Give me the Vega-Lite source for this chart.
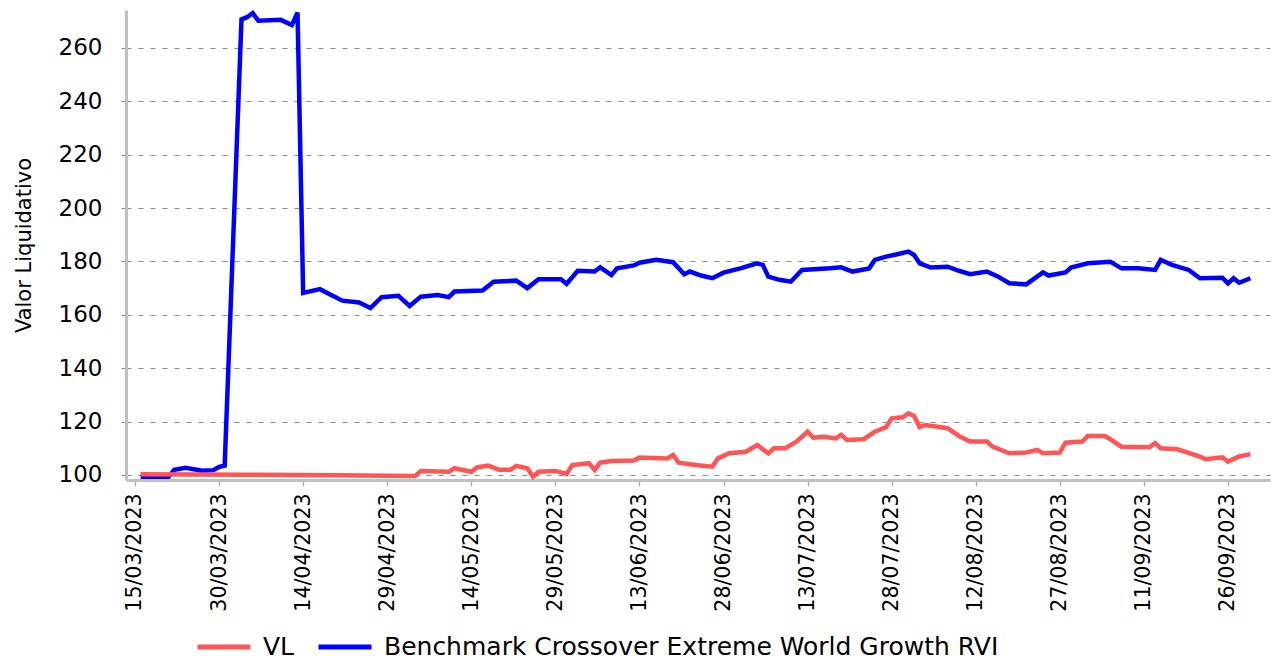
{
  "$schema": "https://vega.github.io/schema/vega-lite/v6.json",
  "width": 1144,
  "height": 470,
  "autosize": {"type": "none"},
  "padding": {"left": 126, "top": 10, "right": 6, "bottom": 182},
  "background": "white",
  "config": {
    "view": {"stroke": null},
    "font": "DejaVu Sans"
  },
  "data": {
    "values": [
      {"date": "2023-03-16", "series": "Benchmark Crossover Extreme World Growth RVI", "value": 99.3},
      {"date": "2023-03-21", "series": "Benchmark Crossover Extreme World Growth RVI", "value": 99.3},
      {"date": "2023-03-22", "series": "Benchmark Crossover Extreme World Growth RVI", "value": 101.9},
      {"date": "2023-03-24", "series": "Benchmark Crossover Extreme World Growth RVI", "value": 102.7},
      {"date": "2023-03-27", "series": "Benchmark Crossover Extreme World Growth RVI", "value": 101.6},
      {"date": "2023-03-29", "series": "Benchmark Crossover Extreme World Growth RVI", "value": 101.8},
      {"date": "2023-03-30", "series": "Benchmark Crossover Extreme World Growth RVI", "value": 103.0},
      {"date": "2023-03-31", "series": "Benchmark Crossover Extreme World Growth RVI", "value": 103.5},
      {"date": "2023-04-03", "series": "Benchmark Crossover Extreme World Growth RVI", "value": 270.7},
      {"date": "2023-04-04", "series": "Benchmark Crossover Extreme World Growth RVI", "value": 271.5},
      {"date": "2023-04-05", "series": "Benchmark Crossover Extreme World Growth RVI", "value": 273.0},
      {"date": "2023-04-06", "series": "Benchmark Crossover Extreme World Growth RVI", "value": 270.2},
      {"date": "2023-04-10", "series": "Benchmark Crossover Extreme World Growth RVI", "value": 270.5},
      {"date": "2023-04-12", "series": "Benchmark Crossover Extreme World Growth RVI", "value": 268.6},
      {"date": "2023-04-13", "series": "Benchmark Crossover Extreme World Growth RVI", "value": 273.2},
      {"date": "2023-04-14", "series": "Benchmark Crossover Extreme World Growth RVI", "value": 168.2},
      {"date": "2023-04-17", "series": "Benchmark Crossover Extreme World Growth RVI", "value": 169.6},
      {"date": "2023-04-19", "series": "Benchmark Crossover Extreme World Growth RVI", "value": 167.4},
      {"date": "2023-04-21", "series": "Benchmark Crossover Extreme World Growth RVI", "value": 165.3},
      {"date": "2023-04-24", "series": "Benchmark Crossover Extreme World Growth RVI", "value": 164.6},
      {"date": "2023-04-26", "series": "Benchmark Crossover Extreme World Growth RVI", "value": 162.5},
      {"date": "2023-04-28", "series": "Benchmark Crossover Extreme World Growth RVI", "value": 166.6},
      {"date": "2023-05-01", "series": "Benchmark Crossover Extreme World Growth RVI", "value": 167.1},
      {"date": "2023-05-03", "series": "Benchmark Crossover Extreme World Growth RVI", "value": 163.3},
      {"date": "2023-05-05", "series": "Benchmark Crossover Extreme World Growth RVI", "value": 166.8},
      {"date": "2023-05-08", "series": "Benchmark Crossover Extreme World Growth RVI", "value": 167.4},
      {"date": "2023-05-10", "series": "Benchmark Crossover Extreme World Growth RVI", "value": 166.6},
      {"date": "2023-05-11", "series": "Benchmark Crossover Extreme World Growth RVI", "value": 168.7},
      {"date": "2023-05-16", "series": "Benchmark Crossover Extreme World Growth RVI", "value": 169.1},
      {"date": "2023-05-18", "series": "Benchmark Crossover Extreme World Growth RVI", "value": 172.4},
      {"date": "2023-05-22", "series": "Benchmark Crossover Extreme World Growth RVI", "value": 172.8},
      {"date": "2023-05-24", "series": "Benchmark Crossover Extreme World Growth RVI", "value": 170.0},
      {"date": "2023-05-26", "series": "Benchmark Crossover Extreme World Growth RVI", "value": 173.3},
      {"date": "2023-05-30", "series": "Benchmark Crossover Extreme World Growth RVI", "value": 173.3},
      {"date": "2023-05-31", "series": "Benchmark Crossover Extreme World Growth RVI", "value": 171.6},
      {"date": "2023-06-02", "series": "Benchmark Crossover Extreme World Growth RVI", "value": 176.5},
      {"date": "2023-06-05", "series": "Benchmark Crossover Extreme World Growth RVI", "value": 176.2},
      {"date": "2023-06-06", "series": "Benchmark Crossover Extreme World Growth RVI", "value": 177.8},
      {"date": "2023-06-08", "series": "Benchmark Crossover Extreme World Growth RVI", "value": 174.9},
      {"date": "2023-06-09", "series": "Benchmark Crossover Extreme World Growth RVI", "value": 177.4},
      {"date": "2023-06-12", "series": "Benchmark Crossover Extreme World Growth RVI", "value": 178.5},
      {"date": "2023-06-13", "series": "Benchmark Crossover Extreme World Growth RVI", "value": 179.5},
      {"date": "2023-06-16", "series": "Benchmark Crossover Extreme World Growth RVI", "value": 180.6},
      {"date": "2023-06-19", "series": "Benchmark Crossover Extreme World Growth RVI", "value": 179.7},
      {"date": "2023-06-21", "series": "Benchmark Crossover Extreme World Growth RVI", "value": 175.2},
      {"date": "2023-06-22", "series": "Benchmark Crossover Extreme World Growth RVI", "value": 176.2},
      {"date": "2023-06-24", "series": "Benchmark Crossover Extreme World Growth RVI", "value": 174.7},
      {"date": "2023-06-26", "series": "Benchmark Crossover Extreme World Growth RVI", "value": 173.7},
      {"date": "2023-06-28", "series": "Benchmark Crossover Extreme World Growth RVI", "value": 175.8},
      {"date": "2023-07-01", "series": "Benchmark Crossover Extreme World Growth RVI", "value": 177.4},
      {"date": "2023-07-04", "series": "Benchmark Crossover Extreme World Growth RVI", "value": 179.3},
      {"date": "2023-07-05", "series": "Benchmark Crossover Extreme World Growth RVI", "value": 178.7},
      {"date": "2023-07-06", "series": "Benchmark Crossover Extreme World Growth RVI", "value": 174.3},
      {"date": "2023-07-08", "series": "Benchmark Crossover Extreme World Growth RVI", "value": 173.1},
      {"date": "2023-07-10", "series": "Benchmark Crossover Extreme World Growth RVI", "value": 172.4},
      {"date": "2023-07-12", "series": "Benchmark Crossover Extreme World Growth RVI", "value": 176.8},
      {"date": "2023-07-17", "series": "Benchmark Crossover Extreme World Growth RVI", "value": 177.4},
      {"date": "2023-07-19", "series": "Benchmark Crossover Extreme World Growth RVI", "value": 177.8},
      {"date": "2023-07-21", "series": "Benchmark Crossover Extreme World Growth RVI", "value": 176.2},
      {"date": "2023-07-24", "series": "Benchmark Crossover Extreme World Growth RVI", "value": 177.4},
      {"date": "2023-07-25", "series": "Benchmark Crossover Extreme World Growth RVI", "value": 180.6},
      {"date": "2023-07-27", "series": "Benchmark Crossover Extreme World Growth RVI", "value": 181.8},
      {"date": "2023-07-29", "series": "Benchmark Crossover Extreme World Growth RVI", "value": 182.7},
      {"date": "2023-07-31", "series": "Benchmark Crossover Extreme World Growth RVI", "value": 183.7},
      {"date": "2023-08-01", "series": "Benchmark Crossover Extreme World Growth RVI", "value": 182.4},
      {"date": "2023-08-02", "series": "Benchmark Crossover Extreme World Growth RVI", "value": 179.3},
      {"date": "2023-08-04", "series": "Benchmark Crossover Extreme World Growth RVI", "value": 177.7},
      {"date": "2023-08-07", "series": "Benchmark Crossover Extreme World Growth RVI", "value": 178.0},
      {"date": "2023-08-09", "series": "Benchmark Crossover Extreme World Growth RVI", "value": 176.5},
      {"date": "2023-08-11", "series": "Benchmark Crossover Extreme World Growth RVI", "value": 175.2},
      {"date": "2023-08-14", "series": "Benchmark Crossover Extreme World Growth RVI", "value": 176.2},
      {"date": "2023-08-16", "series": "Benchmark Crossover Extreme World Growth RVI", "value": 174.3},
      {"date": "2023-08-18", "series": "Benchmark Crossover Extreme World Growth RVI", "value": 171.8},
      {"date": "2023-08-21", "series": "Benchmark Crossover Extreme World Growth RVI", "value": 171.4},
      {"date": "2023-08-24", "series": "Benchmark Crossover Extreme World Growth RVI", "value": 175.9},
      {"date": "2023-08-25", "series": "Benchmark Crossover Extreme World Growth RVI", "value": 174.7},
      {"date": "2023-08-28", "series": "Benchmark Crossover Extreme World Growth RVI", "value": 175.9},
      {"date": "2023-08-29", "series": "Benchmark Crossover Extreme World Growth RVI", "value": 177.7},
      {"date": "2023-09-01", "series": "Benchmark Crossover Extreme World Growth RVI", "value": 179.3},
      {"date": "2023-09-05", "series": "Benchmark Crossover Extreme World Growth RVI", "value": 179.9},
      {"date": "2023-09-07", "series": "Benchmark Crossover Extreme World Growth RVI", "value": 177.4},
      {"date": "2023-09-10", "series": "Benchmark Crossover Extreme World Growth RVI", "value": 177.4},
      {"date": "2023-09-13", "series": "Benchmark Crossover Extreme World Growth RVI", "value": 176.8},
      {"date": "2023-09-14", "series": "Benchmark Crossover Extreme World Growth RVI", "value": 180.6},
      {"date": "2023-09-16", "series": "Benchmark Crossover Extreme World Growth RVI", "value": 178.7},
      {"date": "2023-09-19", "series": "Benchmark Crossover Extreme World Growth RVI", "value": 176.8},
      {"date": "2023-09-21", "series": "Benchmark Crossover Extreme World Growth RVI", "value": 173.7},
      {"date": "2023-09-25", "series": "Benchmark Crossover Extreme World Growth RVI", "value": 173.9},
      {"date": "2023-09-26", "series": "Benchmark Crossover Extreme World Growth RVI", "value": 171.8},
      {"date": "2023-09-27", "series": "Benchmark Crossover Extreme World Growth RVI", "value": 173.7},
      {"date": "2023-09-28", "series": "Benchmark Crossover Extreme World Growth RVI", "value": 172.0},
      {"date": "2023-09-30", "series": "Benchmark Crossover Extreme World Growth RVI", "value": 173.7},
      {"date": "2023-03-16", "series": "VL", "value": 100.3},
      {"date": "2023-04-04", "series": "VL", "value": 100.1},
      {"date": "2023-04-19", "series": "VL", "value": 99.9},
      {"date": "2023-05-04", "series": "VL", "value": 99.6},
      {"date": "2023-05-05", "series": "VL", "value": 101.5},
      {"date": "2023-05-10", "series": "VL", "value": 101.2},
      {"date": "2023-05-11", "series": "VL", "value": 102.5},
      {"date": "2023-05-14", "series": "VL", "value": 101.2},
      {"date": "2023-05-15", "series": "VL", "value": 102.8},
      {"date": "2023-05-17", "series": "VL", "value": 103.5},
      {"date": "2023-05-19", "series": "VL", "value": 101.9},
      {"date": "2023-05-21", "series": "VL", "value": 101.9},
      {"date": "2023-05-22", "series": "VL", "value": 103.4},
      {"date": "2023-05-24", "series": "VL", "value": 102.5},
      {"date": "2023-05-25", "series": "VL", "value": 99.4},
      {"date": "2023-05-26", "series": "VL", "value": 101.2},
      {"date": "2023-05-29", "series": "VL", "value": 101.5},
      {"date": "2023-05-31", "series": "VL", "value": 100.4},
      {"date": "2023-06-01", "series": "VL", "value": 103.7},
      {"date": "2023-06-04", "series": "VL", "value": 104.4},
      {"date": "2023-06-05", "series": "VL", "value": 101.9},
      {"date": "2023-06-06", "series": "VL", "value": 104.6},
      {"date": "2023-06-08", "series": "VL", "value": 105.2},
      {"date": "2023-06-12", "series": "VL", "value": 105.4},
      {"date": "2023-06-13", "series": "VL", "value": 106.5},
      {"date": "2023-06-18", "series": "VL", "value": 106.2},
      {"date": "2023-06-19", "series": "VL", "value": 107.5},
      {"date": "2023-06-20", "series": "VL", "value": 104.6},
      {"date": "2023-06-23", "series": "VL", "value": 103.7},
      {"date": "2023-06-26", "series": "VL", "value": 103.1},
      {"date": "2023-06-27", "series": "VL", "value": 106.2},
      {"date": "2023-06-29", "series": "VL", "value": 108.1},
      {"date": "2023-07-02", "series": "VL", "value": 108.7},
      {"date": "2023-07-04", "series": "VL", "value": 111.2},
      {"date": "2023-07-06", "series": "VL", "value": 108.1},
      {"date": "2023-07-07", "series": "VL", "value": 110.0},
      {"date": "2023-07-09", "series": "VL", "value": 110.0},
      {"date": "2023-07-11", "series": "VL", "value": 112.5},
      {"date": "2023-07-13", "series": "VL", "value": 116.2},
      {"date": "2023-07-14", "series": "VL", "value": 114.0},
      {"date": "2023-07-16", "series": "VL", "value": 114.3},
      {"date": "2023-07-18", "series": "VL", "value": 113.7},
      {"date": "2023-07-19", "series": "VL", "value": 115.0},
      {"date": "2023-07-20", "series": "VL", "value": 113.1},
      {"date": "2023-07-23", "series": "VL", "value": 113.4},
      {"date": "2023-07-25", "series": "VL", "value": 116.2},
      {"date": "2023-07-27", "series": "VL", "value": 117.9},
      {"date": "2023-07-28", "series": "VL", "value": 121.2},
      {"date": "2023-07-30", "series": "VL", "value": 121.6},
      {"date": "2023-07-31", "series": "VL", "value": 123.1},
      {"date": "2023-08-01", "series": "VL", "value": 122.1},
      {"date": "2023-08-02", "series": "VL", "value": 117.9},
      {"date": "2023-08-03", "series": "VL", "value": 118.7},
      {"date": "2023-08-07", "series": "VL", "value": 117.5},
      {"date": "2023-08-09", "series": "VL", "value": 114.6},
      {"date": "2023-08-11", "series": "VL", "value": 112.5},
      {"date": "2023-08-14", "series": "VL", "value": 112.5},
      {"date": "2023-08-15", "series": "VL", "value": 110.6},
      {"date": "2023-08-18", "series": "VL", "value": 108.1},
      {"date": "2023-08-21", "series": "VL", "value": 108.4},
      {"date": "2023-08-23", "series": "VL", "value": 109.4},
      {"date": "2023-08-24", "series": "VL", "value": 108.1},
      {"date": "2023-08-27", "series": "VL", "value": 108.4},
      {"date": "2023-08-28", "series": "VL", "value": 112.1},
      {"date": "2023-08-31", "series": "VL", "value": 112.5},
      {"date": "2023-09-01", "series": "VL", "value": 114.6},
      {"date": "2023-09-04", "series": "VL", "value": 114.6},
      {"date": "2023-09-05", "series": "VL", "value": 113.4},
      {"date": "2023-09-07", "series": "VL", "value": 110.6},
      {"date": "2023-09-12", "series": "VL", "value": 110.4},
      {"date": "2023-09-13", "series": "VL", "value": 111.9},
      {"date": "2023-09-14", "series": "VL", "value": 110.0},
      {"date": "2023-09-17", "series": "VL", "value": 109.6},
      {"date": "2023-09-21", "series": "VL", "value": 106.9},
      {"date": "2023-09-22", "series": "VL", "value": 105.9},
      {"date": "2023-09-25", "series": "VL", "value": 106.6},
      {"date": "2023-09-26", "series": "VL", "value": 105.0},
      {"date": "2023-09-28", "series": "VL", "value": 106.9},
      {"date": "2023-09-30", "series": "VL", "value": 107.8}
    ]
  },
  "mark": {"type": "line", "strokeWidth": 4.5},
  "encoding": {
    "x": {
      "field": "date",
      "type": "temporal",
      "scale": {
        "type": "utc",
        "domain": [
          {"year": 2023, "month": 3, "date": 13, "hours": 9, "minutes": 30, "utc": true},
          {"year": 2023, "month": 10, "date": 3, "hours": 12, "utc": true}
        ]
      },
      "axis": {
        "title": null,
        "values": [
          {"year": 2023, "month": 3, "date": 15, "utc": true},
          {"year": 2023, "month": 3, "date": 30, "utc": true},
          {"year": 2023, "month": 4, "date": 14, "utc": true},
          {"year": 2023, "month": 4, "date": 29, "utc": true},
          {"year": 2023, "month": 5, "date": 14, "utc": true},
          {"year": 2023, "month": 5, "date": 29, "utc": true},
          {"year": 2023, "month": 6, "date": 13, "utc": true},
          {"year": 2023, "month": 6, "date": 28, "utc": true},
          {"year": 2023, "month": 7, "date": 13, "utc": true},
          {"year": 2023, "month": 7, "date": 28, "utc": true},
          {"year": 2023, "month": 8, "date": 12, "utc": true},
          {"year": 2023, "month": 8, "date": 27, "utc": true},
          {"year": 2023, "month": 9, "date": 11, "utc": true},
          {"year": 2023, "month": 9, "date": 26, "utc": true}
        ],
        "format": "%d/%m/%Y",
        "labelAngle": 270,
        "labelFont": "DejaVu Sans",
        "labelFontSize": 20.5,
        "labelColor": "black",
        "labelPadding": 7,
        "labelOverlap": false,
        "labelFlush": false,
        "labelBound": false,
        "grid": false,
        "tickSize": 6,
        "tickColor": "#b0b0b0",
        "tickWidth": 1.5,
        "domainColor": "#c0c0c0",
        "domainWidth": 3
      }
    },
    "y": {
      "field": "value",
      "type": "quantitative",
      "scale": {"domain": [98.1, 274.2], "nice": false, "zero": false},
      "axis": {
        "title": "Valor Liquidativo",
        "titleFont": "DejaVu Sans",
        "titleFontSize": 21,
        "titleFontWeight": "normal",
        "titleColor": "black",
        "titlePadding": 24,
        "values": [100, 120, 140, 160, 180, 200, 220, 240, 260],
        "labelFont": "DejaVu Sans",
        "labelFontSize": 23,
        "labelColor": "black",
        "labelPadding": 16,
        "tickSize": 8,
        "tickColor": "#8a8a8a",
        "tickDash": [5, 7],
        "grid": true,
        "gridColor": "#8a8a8a",
        "gridDash": [5, 7],
        "gridWidth": 1,
        "domainColor": "#c0c0c0",
        "domainWidth": 3
      }
    },
    "color": {
      "field": "series",
      "type": "nominal",
      "scale": {
        "domain": ["VL", "Benchmark Crossover Extreme World Growth RVI"],
        "range": ["#ff5555", "#0000ff"]
      },
      "legend": {
        "title": null,
        "orient": "none",
        "legendX": 69,
        "legendY": 608,
        "direction": "horizontal",
        "symbolType": "stroke",
        "symbolSize": 2809,
        "symbolStrokeWidth": 5,
        "labelFont": "DejaVu Sans",
        "labelFontSize": 25,
        "labelColor": "black",
        "labelOffset": 10,
        "columnPadding": 13,
        "labelLimit": 1000
      }
    }
  }
}
